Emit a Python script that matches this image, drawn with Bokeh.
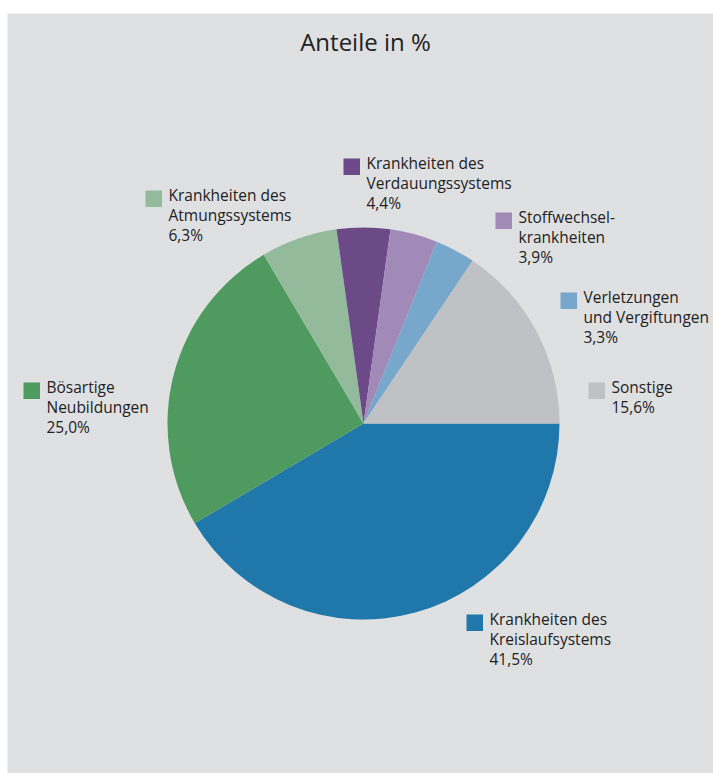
import math
from bokeh.plotting import figure
from bokeh.models import Range1d, ColumnDataSource
from bokeh.core.properties import value
from bokeh.embed import file_html
from bokeh.resources import INLINE

# ---- data ----
categories = ["Krankheiten des\nKreislaufsystems", "Bösartige\nNeubildungen",
              "Krankheiten des\nAtmungssystems", "Krankheiten des\nVerdauungssystems",
              "Stoffwechsel-\nkrankheiten", "Verletzungen\nund Vergiftungen", "Sonstige"]
shares = [41.5, 25.0, 6.3, 4.4, 3.9, 3.3, 15.6]
colors = ["#1f78a9", "#4f9a5f", "#93bb9b", "#6b4a87", "#a18ab8", "#77a7cb", "#bfc1c4"]

# label anchor (square top-left corner) in page pixels (layout only)
label_pos = [(466, 614), (23, 382), (145, 190), (343, 158), (495, 212), (560, 292), (588, 382)]

W, H = 713, 773
LEFT, TOP = 7, 13

def py(page_y):
    return H - page_y

p = figure(width=W, height=H, output_backend="svg", toolbar_location=None,
           x_range=Range1d(LEFT, W), y_range=Range1d(0, H - TOP),
           min_border_left=LEFT, min_border_right=0, min_border_bottom=0, min_border_top=TOP)
p.axis.visible = False
p.grid.visible = False
p.outline_line_color = None
p.background_fill_color = "#dfe0e2"
p.border_fill_color = "white"

cx, cy, r = 363, py(423), 196

starts, ends = [], []
cum = 0.0
for s in shares:
    ends.append(-cum / 100 * 2 * math.pi)
    cum += s
    starts.append(-cum / 100 * 2 * math.pi)

src = ColumnDataSource(dict(start=starts, end=ends, color=colors))
p.wedge(x=cx, y=cy, radius=r, start_angle="start", end_angle="end",
        color="color", line_color=None, source=src)

# title
p.text(x=[365], y=[py(24)], text=["Anteile in %"], text_font=value("Open Sans"),
       text_font_size="24px", text_align="center", text_baseline="top", text_color="#222222")

sq = 16.5
lab_texts = [c + "\n" + (f"{v:.1f}".replace(".", ",")) + "%" for c, v in zip(categories, shares)]
sx = [lp[0] + sq / 2 for lp in label_pos]
sy = [py(lp[1] + sq / 2) for lp in label_pos]
p.rect(x=sx, y=sy, width=sq, height=sq, fill_color=colors, line_color=None)
tx = [lp[0] + 23 for lp in label_pos]
ty = [py(lp[1] - 7) for lp in label_pos]
p.text(x=tx, y=ty, text=lab_texts, text_font=value("Open Sans"), text_font_size="15.5px",
       text_align="left", text_baseline="top", text_color="#222222", text_line_height=0.92)

open("out.html", "w").write(file_html(p, INLINE))
